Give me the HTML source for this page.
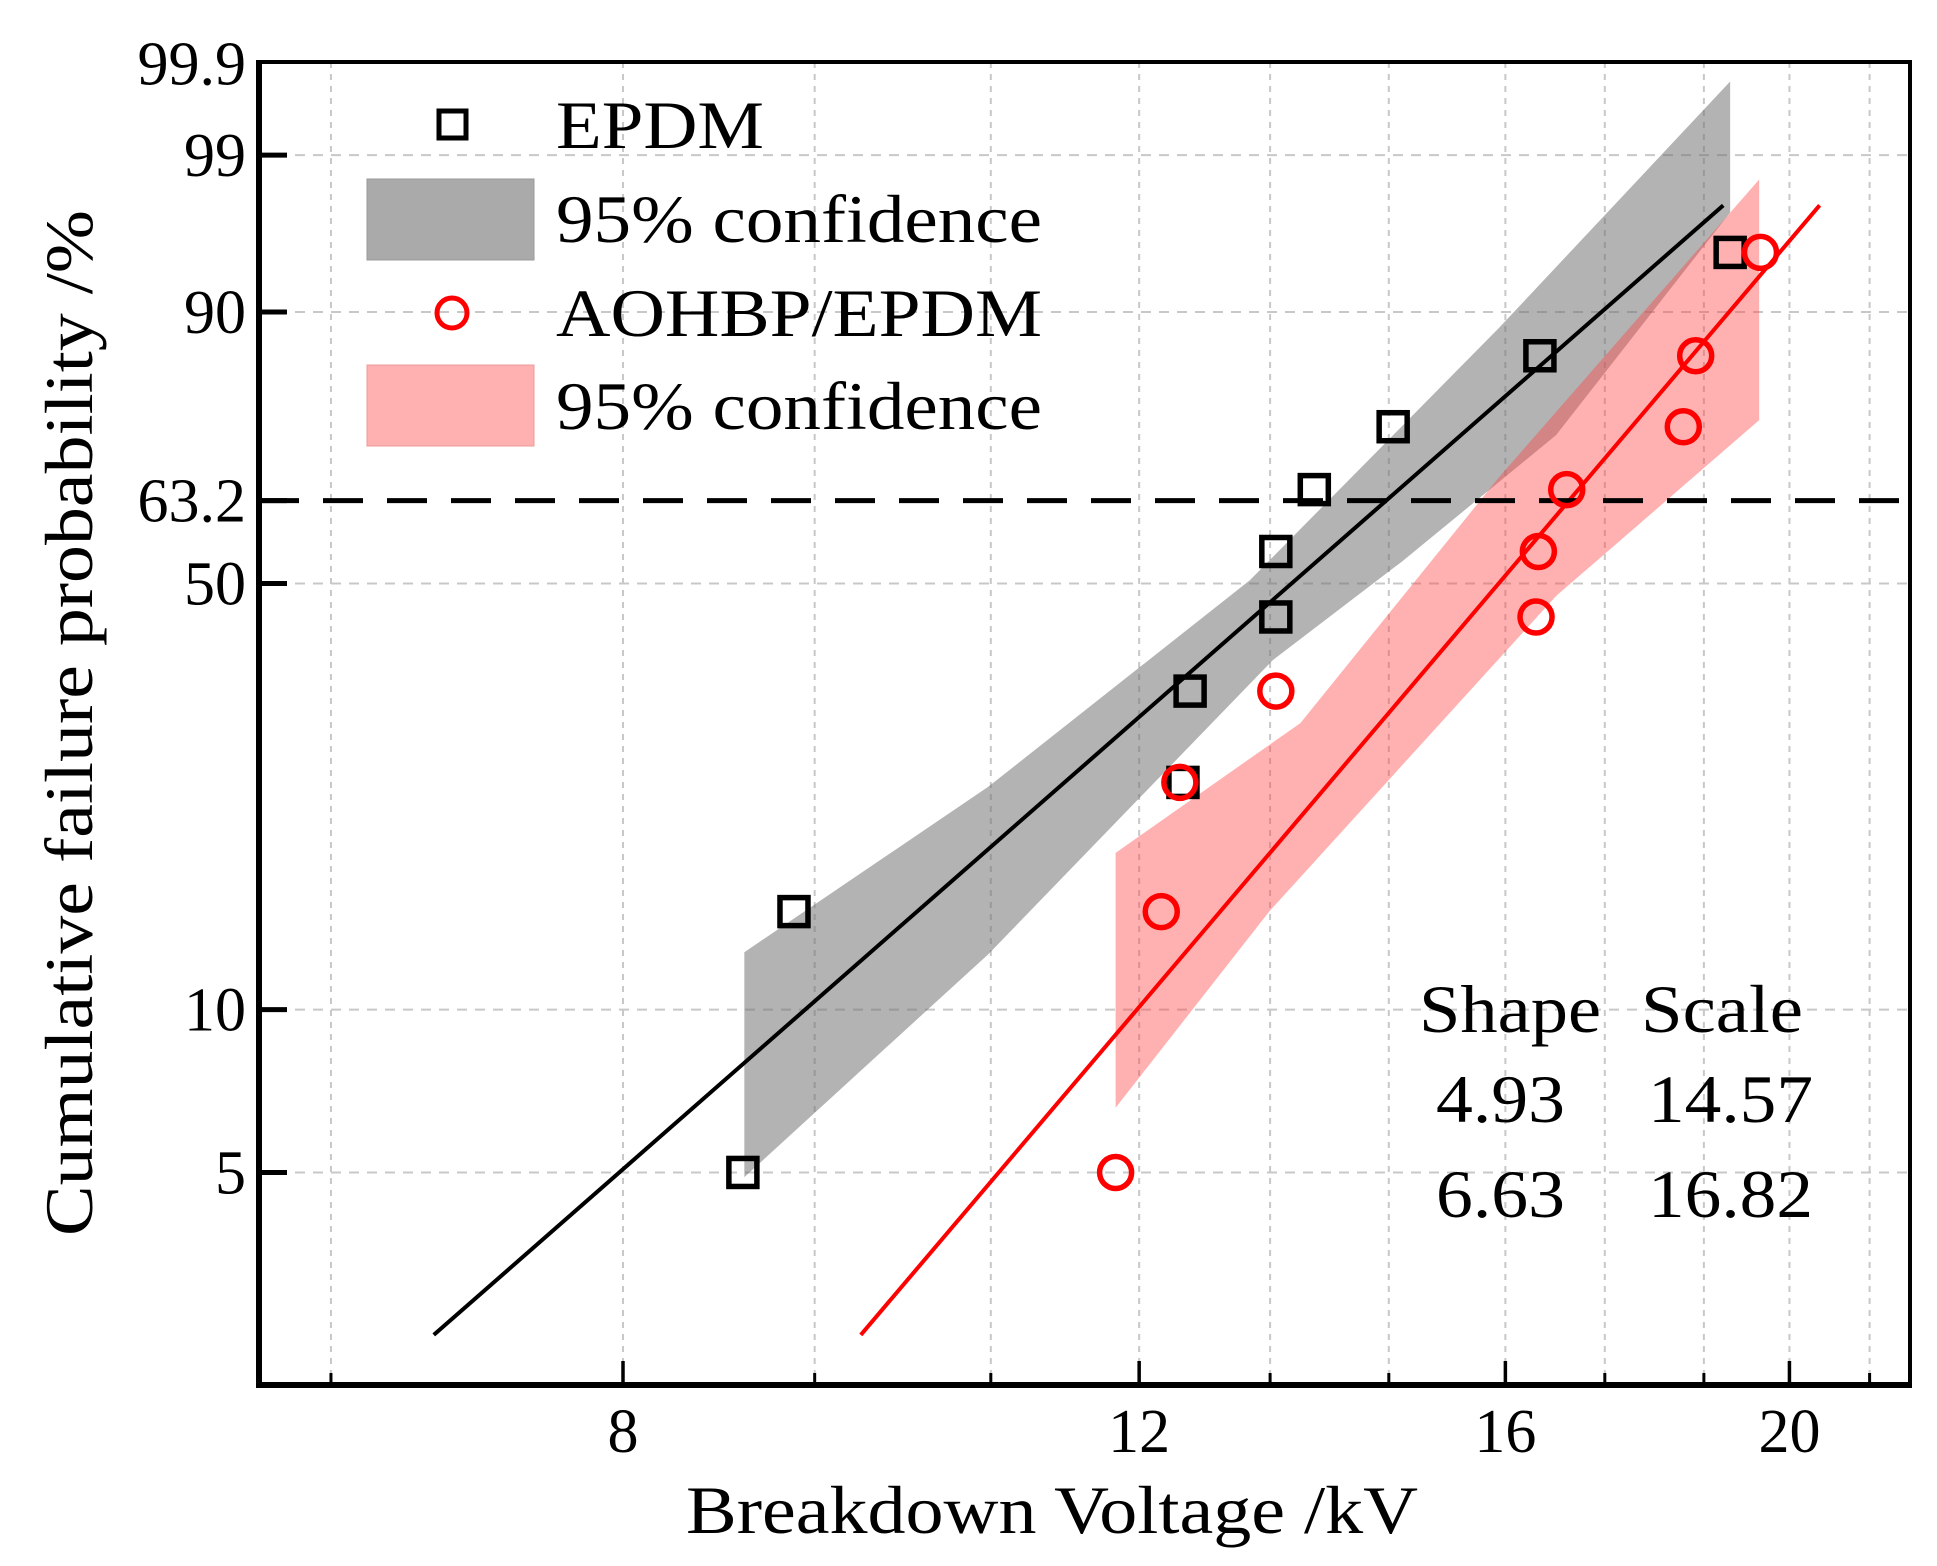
<!DOCTYPE html>
<html><head><meta charset="utf-8"><style>
html,body{margin:0;padding:0;background:#fff;}
svg{display:block;font-family:"Liberation Serif",serif;}
</style></head><body>
<svg id="chart" width="1937" height="1566" viewBox="0 0 1937 1566" xmlns="http://www.w3.org/2000/svg">
<g id="grid"></g>
<g id="bands"></g>
<g id="lines"></g>
<g id="marks"></g>
<g id="axes"></g>
<g id="legend">
  <rect x="439" y="111" width="27" height="27" fill="none" stroke="#000" stroke-width="5"/>
  <text x="556" y="148" font-size="68" textLength="208" lengthAdjust="spacingAndGlyphs">EPDM</text>
  <rect x="367" y="179" width="167" height="81" fill="rgb(170,170,170)" stroke="#999" stroke-width="1"/>
  <text x="556" y="242" font-size="68" textLength="486" lengthAdjust="spacingAndGlyphs">95% confidence</text>
  <circle cx="452" cy="313" r="15" fill="none" stroke="#ff0000" stroke-width="5"/>
  <text x="556" y="336" font-size="68" textLength="486" lengthAdjust="spacingAndGlyphs">AOHBP/EPDM</text>
  <rect x="367" y="365" width="167" height="81" fill="rgb(255,176,176)" stroke="#e99" stroke-width="1"/>
  <text x="556" y="429" font-size="68" textLength="486" lengthAdjust="spacingAndGlyphs">95% confidence</text>
</g>
<g id="params" font-size="68">
  <text x="1419" y="1032" textLength="182" lengthAdjust="spacingAndGlyphs">Shape</text>
  <text x="1641" y="1032" textLength="162" lengthAdjust="spacingAndGlyphs">Scale</text>
  <text x="1436" y="1122" textLength="129" lengthAdjust="spacingAndGlyphs">4.93</text>
  <text x="1648" y="1122" textLength="165" lengthAdjust="spacingAndGlyphs">14.57</text>
  <text x="1436" y="1217" textLength="129" lengthAdjust="spacingAndGlyphs">6.63</text>
  <text x="1648" y="1217" textLength="165" lengthAdjust="spacingAndGlyphs">16.82</text>
</g>
<text x="1052" y="1533" font-size="68" text-anchor="middle" textLength="732" lengthAdjust="spacingAndGlyphs">Breakdown Voltage /kV</text>
<text transform="translate(92,723) rotate(-90)" font-size="68" text-anchor="middle" textLength="1026" lengthAdjust="spacingAndGlyphs">Cumulative failure probability /%</text>
</svg>
<script>
const xMajorTicks = [8, 12, 16, 20];
const xMinorTicks = [6.36, 9.30, 10.68, 13.3, 14.6, 17.3, 18.7, 21.3];
const yTicks = [99.9, 99, 90, 63.2, 50, 10, 5];
const yGrid = [99, 90, 50, 10, 5];
const epdmV = [8.79, 9.15, 12.42, 12.49, 13.36, 13.36, 13.77, 14.65, 16.44, 19.09];
const epdmF = [5, 15, 25, 35, 45, 55, 65, 75, 85, 95];
const aohbpV = [11.78, 12.21, 12.39, 13.36, 16.39, 16.42, 16.79, 18.40, 18.58, 19.55];
const aohbpF = [5, 15, 25, 35, 45, 55, 65, 75, 85, 95];
const shapes = [4.93, 6.63];
const scales = [14.57, 16.82];
const fitFRange = [2.47, 97.5];
const grayUpperV = [8.80, 10.66, 13.09, 15.92, 19.09];
const grayUpperF = [12.7, 24.6, 50.5, 88.3, 99.83];
const grayLowerV = [8.80, 10.66, 13.33, 14.76, 16.65, 19.09];
const grayLowerF = [4.9, 12.6, 39.0, 53.5, 73.7, 97.2];
const redUpperV = [11.78, 13.62, 15.92, 19.53];
const redUpperF = [19.0, 31.2, 67.0, 98.4];
const redLowerV = [11.78, 13.29, 14.91, 16.65, 19.53];
const redLowerF = [6.6, 15.0, 28.2, 48.1, 76.0];

const L = 259, R = 1910, T = 62, B = 1385;
const NS = 'http://www.w3.org/2000/svg';
function X(v){ return 623 + 1273 * Math.log(v / 8); }
function Y(F){ const w = Math.log(-Math.log(1 - F / 100)); return 500.6 - 226.2 * w; }
function mk(tag, attrs, parent){ const e = document.createElementNS(NS, tag); for (const k in attrs) e.setAttribute(k, attrs[k]); parent.appendChild(e); return e; }
const grid = document.getElementById('grid'), axes = document.getElementById('axes');
const bands = document.getElementById('bands'), lines = document.getElementById('lines'), marks = document.getElementById('marks');

xMajorTicks.concat(xMinorTicks).forEach(v => {
  const g = mk('line', {x1: X(v), x2: X(v), y1: T, y2: B, stroke: '#c8c8c8', 'stroke-width': 2, 'stroke-dasharray': '6 6'}, grid);
  
  
});
yGrid.forEach(F => {
  const g = mk('line', {x1: L, x2: R, y1: Y(F), y2: Y(F), stroke: '#c8c8c8', 'stroke-width': 2, 'stroke-dasharray': '10 8'}, grid);
  
  
});

function band(uv, uf, lv, lf, fill, name){
  const pts = [];
  for (let i = 0; i < uv.length; i++) pts.push(X(uv[i]) + ',' + Y(uf[i]));
  for (let i = lv.length - 1; i >= 0; i--) pts.push(X(lv[i]) + ',' + Y(lf[i]));
  const p = mk('polygon', {points: pts.join(' '), fill: fill}, bands);
  
  
}
band(grayUpperV, grayUpperF, grayLowerV, grayLowerF, 'rgba(110,110,110,0.52)', 'epdm-confidence-band');
band(redUpperV, redUpperF, redLowerV, redLowerF, 'rgba(255,70,70,0.42)', 'aohbp-confidence-band');

const colors = ['#000', '#ff0000'];
shapes.forEach((b, i) => {
  const v1 = scales[i] * Math.pow(-Math.log(1 - fitFRange[0] / 100), 1 / b);
  const v2 = scales[i] * Math.pow(-Math.log(1 - fitFRange[1] / 100), 1 / b);
  const l = mk('line', {x1: X(v1), y1: Y(fitFRange[0]), x2: X(v2), y2: Y(fitFRange[1]), stroke: colors[i], 'stroke-width': 4}, lines);
  
  
});

const ref = mk('line', {x1: L, x2: R, y1: Y(63.2), y2: Y(63.2), stroke: '#000', 'stroke-width': 5, 'stroke-dasharray': '40 24'}, lines);



epdmV.forEach((v, i) => {
  const s = mk('rect', {x: X(v) - 14, y: Y(epdmF[i]) - 14, width: 28, height: 28, fill: 'none', stroke: '#000', 'stroke-width': 5.5}, marks);
  
  
});
aohbpV.forEach((v, i) => {
  const c = mk('circle', {cx: X(v), cy: Y(aohbpF[i]), r: 16, fill: 'none', stroke: '#ff0000', 'stroke-width': 5.5}, marks);
  
  
});

const frame = mk('rect', {x: L, y: T, width: R - L, height: B - T, fill: 'none', stroke: '#000', 'stroke-width': 4}, axes);


const lax = mk('line', {x1: L, x2: L, y1: T - 2, y2: B + 3, stroke: '#000', 'stroke-width': 6}, axes);


const bax = mk('line', {x1: L - 3, x2: R + 2, y1: B, y2: B, stroke: '#000', 'stroke-width': 6}, axes);



xMajorTicks.forEach(v => {
  const t = mk('line', {x1: X(v), x2: X(v), y1: B, y2: B - 24, stroke: '#000', 'stroke-width': 3.5}, axes);
  
  
  const tl = mk('text', {x: X(v), y: 1452, 'font-size': 62, 'text-anchor': 'middle'}, axes);
  tl.textContent = String(v);
  
  
});
xMinorTicks.forEach(v => {
  const t = mk('line', {x1: X(v), x2: X(v), y1: B, y2: B - 12, stroke: '#000', 'stroke-width': 3}, axes);
  
  
});
yTicks.forEach(F => {
  if (F !== 99.9) {
    const t = mk('line', {x1: L, x2: L + 28, y1: Y(F), y2: Y(F), stroke: '#000', 'stroke-width': 5}, axes);
    
    
  }
  const tl = mk('text', {x: 246, y: Y(F) + 21, 'font-size': 62, 'text-anchor': 'end'}, axes);
  tl.textContent = String(F);
  
  
});
</script>
</body></html>
